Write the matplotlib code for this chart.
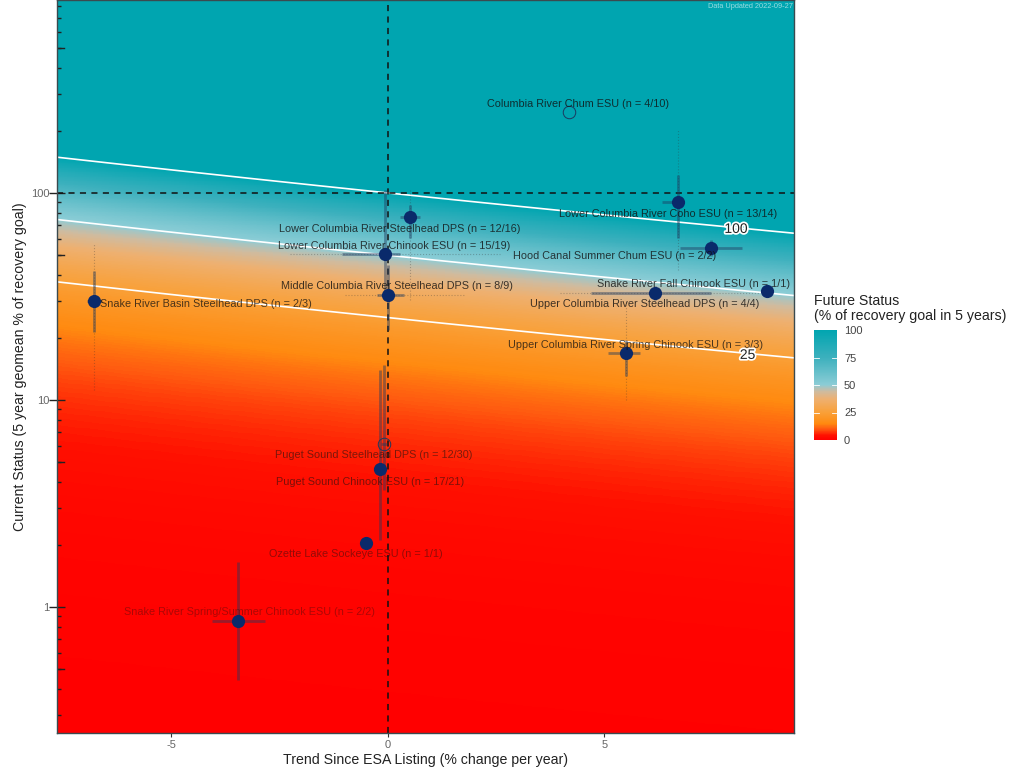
import numpy as np
import matplotlib
matplotlib.use('Agg')
import matplotlib.pyplot as plt
import matplotlib.patheffects as pe
from matplotlib.colors import LinearSegmentedColormap, Normalize
from matplotlib.cm import ScalarMappable
from matplotlib.ticker import FixedLocator, NullFormatter

plt.rcParams['font.family'] = ['Liberation Sans', 'DejaVu Sans']

#---- Data
names = ['Columbia River Chum ESU (n = 4/10)', 'Lower Columbia River Coho ESU (n = 13/14)',
         'Hood Canal Summer Chum ESU (n = 2/2)', 'Snake River Fall Chinook ESU (n = 1/1)',
         'Upper Columbia River Steelhead DPS (n = 4/4)', 'Upper Columbia River Spring Chinook ESU (n = 3/3)',
         'Lower Columbia River Steelhead DPS (n = 12/16)', 'Lower Columbia River Chinook ESU (n = 15/19)',
         'Middle Columbia River Steelhead DPS (n = 8/9)', 'Snake River Basin Steelhead DPS (n = 2/3)',
         'Puget Sound Steelhead DPS (n = 12/30)', 'Puget Sound Chinook ESU (n = 17/21)',
         'Ozette Lake Sockeye ESU (n = 1/1)', 'Snake River Spring/Summer Chinook ESU (n = 2/2)']
trend = [4.18, 6.70, 7.46, 8.75, 6.17, 5.50, 0.51, -0.07, 0.00, -6.79, -0.09, -0.18, -0.51, -3.46]
status = [246, 90.5, 54.2, 33.6, 32.9, 16.9, 76.6, 50.7, 32.2, 30.1, 6.13, 4.64, 2.04, 0.856]
trend_lo = [4.18, 6.33, 6.74, 8.75, 4.69, 5.08, 0.28, -1.06, -0.25, -6.95, -0.15, -0.30, -0.51, -4.06]
trend_hi = [4.18, 6.81, 8.18, 8.75, 7.46, 5.82, 0.74, 0.28, 0.37, -6.60, -0.03, -0.06, -0.51, -2.84]
status_lo = [246, 60.6, 49.6, 33.6, 30.4, 13.1, 60.6, 30.4, 21.8, 21.3, 3.67, 2.11, 2.04, 0.444]
status_hi = [246, 122, 59.3, 33.6, 35.5, 19.5, 87.5, 103, 44.9, 42, 14.8, 14.0, 2.04, 1.65]
open_point = [True, False, False, False, False, False, False, False, False, False, True, False, False, False]

# wider faint dotted intervals, only where they show
outer_trend = {'Upper Columbia River Steelhead DPS (n = 4/4)': (3.97, 8.59),
               'Lower Columbia River Chinook ESU (n = 15/19)': (-2.26, 2.59),
               'Middle Columbia River Steelhead DPS (n = 8/9)': (-0.99, 1.78)}
outer_status = {'Lower Columbia River Coho ESU (n = 13/14)': (42.5, 201),
                'Upper Columbia River Spring Chinook ESU (n = 3/3)': (10, 30.4),
                'Lower Columbia River Steelhead DPS (n = 12/16)': (30.4, 103),
                'Snake River Basin Steelhead DPS (n = 2/3)': (11.2, 57.3)}

contour_levels = [25, 50, 100]
legend_ticks = [0, 25, 50, 75, 100]

# label placement, pixels from the point
label_dx = [9, -10, -96, -73, -10, 10, -10, 9, 9, 112, -10, -10, -10, 11]
label_dy = [8, -12, -8, 7, -11, 8, -12, 8, 9, -3, -11, -13, -11, 9]
label_alpha = [0.8, 0.8, 0.8, 0.8, 0.8, 0.75, 0.8, 0.8, 0.8, 0.75, 0.55, 0.55, 0.45, 0.35]

xlim = (-7.64, 9.38)
ylim = (0.246, 855)

cmap = LinearSegmentedColormap.from_list('future', [
    (0.00, '#ff0000'), (0.04, '#ff1000'), (0.10, '#ff5a10'), (0.15, '#ff8a10'), (0.25, '#f9a038'),
    (0.37, '#eeb070'), (0.44, '#cfbb9f'), (0.48, '#a8c4c0'), (0.50, '#8ccdd6'),
    (0.75, '#3cb0bd'), (1.00, '#00a5b0')])
norm = Normalize(0, 100)

fig = plt.figure(figsize=(10.22, 7.70), dpi=100)
ax = fig.add_axes([57 / 1022, 37 / 770, 737 / 1022, 733 / 770])

#---- Background: status projected 5 years ahead
gx = np.linspace(xlim[0], xlim[1], 500)
gy = np.logspace(np.log10(ylim[0]), np.log10(ylim[1]), 900)
X, Y = np.meshgrid(gx, gy)
Z = Y * (1 + X / 100) ** 5
ax.pcolormesh(X, Y, np.clip(Z, 0, 100), cmap=cmap, norm=norm, shading='auto', rasterized=True)
ax.contour(X, Y, Z, levels=contour_levels, colors='white', linewidths=1.2)

ax.set_yscale('log')
ax.set_xlim(xlim)
ax.set_ylim(ylim)

ax.axhline(100, color='#111111', lw=1.1, ls=(0, (4, 3.5)))
ax.axvline(0, color='#111111', lw=1.1, ls=(0, (4, 3.5)))

#---- Points and intervals
navy = '#0a2a6b'
for i in range(len(names)):
    if names[i] in outer_trend:
        ax.plot(outer_trend[names[i]], [status[i], status[i]], color='#333333', alpha=0.3, lw=0.8, ls=':')
    if names[i] in outer_status:
        ax.plot([trend[i], trend[i]], outer_status[names[i]], color='#333333', alpha=0.3, lw=0.8, ls=':')
    ax.plot([trend_lo[i], trend_hi[i]], [status[i], status[i]], color='#1f3a5f', alpha=0.45, lw=2, solid_capstyle='butt')
    ax.plot([trend[i], trend[i]], [status_lo[i], status_hi[i]], color='#1f3a5f', alpha=0.45, lw=2, solid_capstyle='butt')
    if open_point[i]:
        ax.plot(trend[i], status[i], 'o', ms=9, mfc='none', mec='#1b3a5f', mew=0.7)
    else:
        ax.plot(trend[i], status[i], 'o', ms=9.5, color=navy, mew=0)
    ax.annotate(names[i], (trend[i], status[i]), xytext=(label_dx[i], label_dy[i]),
                textcoords='offset pixels', ha='center', va='center', fontsize=7.8,
                color='#111111', alpha=label_alpha[i])

for val, x, y in [(100, 8.04, 67), (25, 8.31, 16.5)]:
    ax.text(x, y, str(val), fontsize=10, ha='center', va='center', color='#222222',
            path_effects=[pe.withStroke(linewidth=2.5, foreground='white')])

ax.text(0.999, 0.9965, 'Data Updated 2022-09-27', transform=ax.transAxes, ha='right', va='top',
        fontsize=5.3, color='white', alpha=0.6)

#---- Axes
ax.set_xticks([-5, 0, 5])
ax.set_xticklabels(['-5', '0', '5'])
ax.yaxis.set_major_locator(FixedLocator([1, 10, 100]))
ax.set_yticklabels(['1', '10', '100'])
minor = [m * 10.0 ** e for e in (-1, 0, 1, 2) for m in range(2, 10)]
ax.yaxis.set_minor_locator(FixedLocator([v for v in minor if ylim[0] < v < ylim[1]]))
ax.yaxis.set_minor_formatter(NullFormatter())
ax.tick_params(axis='x', length=3, width=0.8, color='#333333', labelcolor='#666666', labelsize=8, pad=2)
ax.tick_params(axis='y', which='major', direction='inout', length=11, width=1, color='#222222',
               labelcolor='#666666', labelsize=8, pad=0)
ax.tick_params(axis='y', which='minor', direction='in', length=3.2, width=1, color='#222222')
# the fives are drawn longer than the other minor ticks
for v in [0.5, 5, 50, 500]:
    ax.plot([0, 0.01], [v, v], color='#222222', lw=1, transform=ax.get_yaxis_transform())
for side in ax.spines.values():
    side.set_color('#3a4a4f')
    side.set_linewidth(1)
ax.set_xlabel('Trend Since ESA Listing (% change per year)', fontsize=10.2, color='#222222', labelpad=2)
ax.set_ylabel('Current Status (5 year geomean % of recovery goal)', fontsize=10.2, color='#222222', labelpad=3)

#---- Legend
cax = fig.add_axes([814 / 1022, 330 / 770, 23 / 1022, 110 / 770])
cb = fig.colorbar(ScalarMappable(norm=norm, cmap=cmap), cax=cax)
cb.set_ticks(legend_ticks)
cb.outline.set_visible(False)
cax.tick_params(length=0, labelsize=8, labelcolor='#444444', pad=5)
for v in legend_ticks[1:-1]:
    cax.plot([0, 0.2], [v, v], color='white', lw=0.6, transform=cax.get_yaxis_transform())
    cax.plot([0.8, 1], [v, v], color='white', lw=0.6, transform=cax.get_yaxis_transform())
fig.text(814 / 1022, 1 - 294 / 770, 'Future Status\n(% of recovery goal in 5 years)', fontsize=10.2,
         color='#222222', va='top', ha='left', linespacing=1.1)

fig.savefig('out.png', dpi=100)
